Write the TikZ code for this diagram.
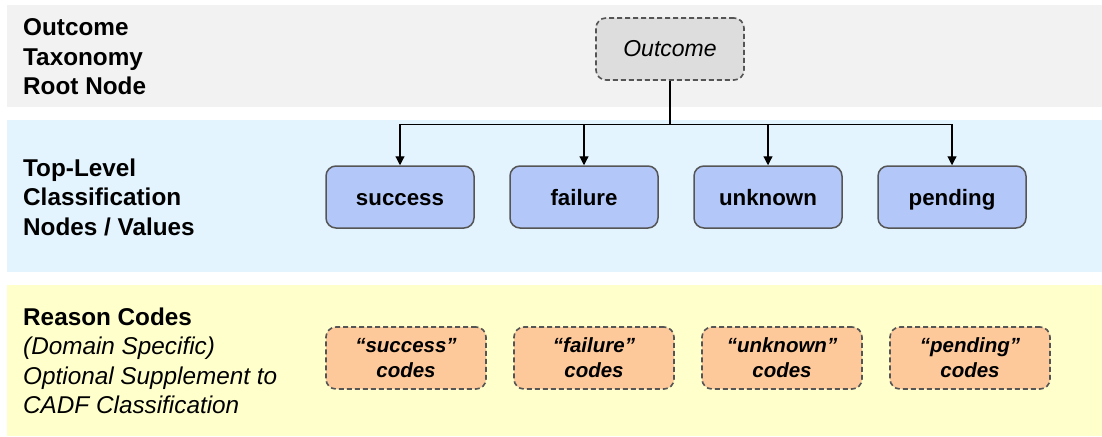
\documentclass[tikz,border=0pt]{standalone}
\usepackage{fontspec}
\setmainfont{Liberation Sans}
\usetikzlibrary{arrows.meta,positioning}
\definecolor{bandgray}{HTML}{F2F2F2}
\definecolor{bandblue}{HTML}{E3F4FE}
\definecolor{bandyellow}{HTML}{FFFFCC}
\definecolor{rootfill}{HTML}{DDDDDD}
\definecolor{valuefill}{HTML}{B3C8F8}
\definecolor{codefill}{HTML}{FDC99B}
\definecolor{boxline}{HTML}{555555}

\begin{document}
\begin{tikzpicture}[x=1pt,y=-1pt,
  lbl/.style={anchor=west, align=left, inner sep=0pt,
    font=\fontsize{24.3}{29.5}\selectfont},
  rootbox/.style={draw=boxline, line width=1.6pt, dash pattern=on 5pt off 3pt,
    rounded corners=10pt, fill=rootfill, minimum width=148pt, minimum height=62pt,
    font=\fontsize{23}{26}\selectfont\itshape},
  valuebox/.style={draw=boxline, line width=1.5pt, rounded corners=10pt,
    fill=valuefill, minimum width=148pt, minimum height=62pt,
    text height=18pt, text depth=2pt,
    font=\fontsize{22.3}{26}\selectfont\bfseries},
  codebox/.style={draw=boxline, line width=1.6pt, dash pattern=on 5pt off 3pt,
    rounded corners=10pt, fill=codefill, minimum width=160pt, minimum height=62pt,
    align=center, inner sep=0pt, font=\fontsize{20.5}{25}\selectfont\bfseries\itshape},
  tree/.style={draw=black, line width=1.2pt, -{Triangle[length=9pt,width=9pt]}}
]
  \useasboundingbox (0,0) rectangle (1102,436);

  % three horizontal bands
  \fill[bandgray]   (7,5)   rectangle (1102,107);
  \fill[bandblue]   (7,120) rectangle (1102,272);
  \fill[bandyellow] (7,285) rectangle (1102,436);

  % left hand labels
  \node[lbl] (rootlbl) at (23,57) {\bfseries Outcome\\\bfseries Taxonomy\\\bfseries Root Node};
  \node[lbl] (toplbl) at (23,197) {\bfseries Top-Level\\\bfseries Classification\\\bfseries Nodes / Values};
  \node[lbl] (codelbl) at (23,361) {\bfseries Reason Codes\\\itshape (Domain Specific)\\\itshape Optional Supplement to\\\itshape CADF Classification};

  % root node
  \node[rootbox] (root) at (670,49) {Outcome};

  % top-level values and their reason codes
  \foreach \n/\xx/\rx in {success/400/406,failure/584/594,unknown/768/782,pending/952/970} {
    \node[valuebox] (\n) at (\xx,197) {\n};
    \node[codebox] (\n code) at (\rx,358) {“\n”\\codes};
    \draw[tree] (root.south) -- ++(0,44) -| (\n.north);
  }

\end{tikzpicture}
\end{document}
